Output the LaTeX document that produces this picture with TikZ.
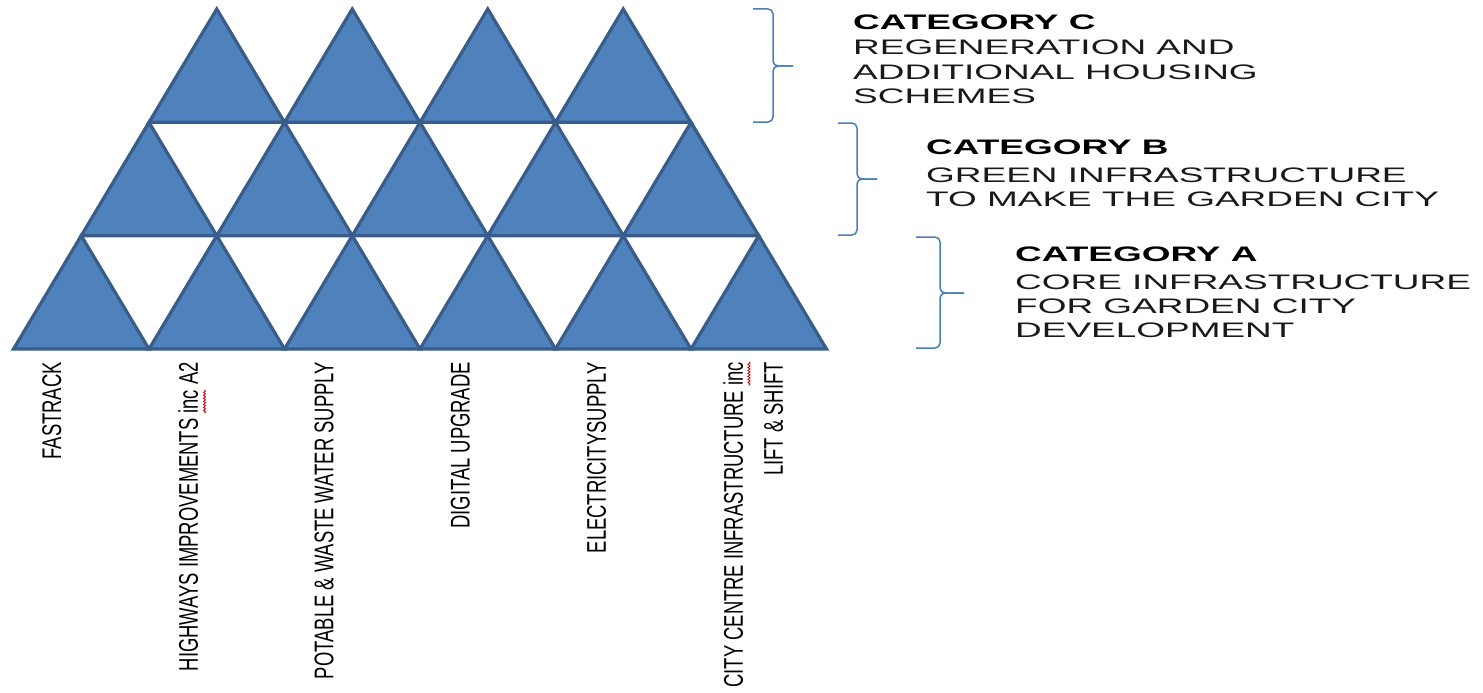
\documentclass[tikz,border=0pt]{standalone}
\usepackage{fontspec}
\setmainfont{Liberation Sans}
\newfontfamily\catfont[FakeStretch=1.76]{Liberation Sans}
\newfontfamily\lblfont[FakeStretch=0.682]{Liberation Sans}
\usetikzlibrary{decorations.pathmorphing}
\definecolor{trifill}{HTML}{4F81BD}
\definecolor{triline}{HTML}{385D8A}
\definecolor{brk}{HTML}{4A7EBB}
\begin{document}
\begin{tikzpicture}[x=1pt,y=-1pt,
  tri/.style={fill=trifill,draw=triline,line width=3.2pt,line join=miter},
  bracket/.style={draw=brk,line width=1.5pt,rounded corners=5pt},
  cathead/.style={anchor=base west,inner sep=0pt,font=\catfont\bfseries\fontsize{21}{24}\selectfont,text=black},
  catline/.style={anchor=base west,inner sep=0pt,font=\catfont\fontsize{21}{24}\selectfont,text=black!90},
  collabel/.style={rotate=90,anchor=north east,inner sep=0pt,align=right,font=\lblfont\fontsize{27}{40}\selectfont,text=black},
  squig/.style={draw=red!80!black,line width=0.8pt,decorate,decoration={snake,amplitude=1.1pt,segment length=3pt}}]
\useasboundingbox (0,0) rectangle (1483,693);
% triangles: rows from bottom
\foreach \r/\n in {0/6,1/5,2/4}{
  \foreach \i in {1,...,\n}{
    \pgfmathsetmacro\xl{13.5+(\i-1)*135.5+\r*67.75}
    \pgfmathsetmacro\yb{349-\r*113.33}
    \filldraw[tri] (\xl,\yb) -- (\xl+135.5,\yb) -- (\xl+67.75,\yb-113.33) -- cycle;
  }
}
% brackets
\coordinate (cTop) at (753,9);   \coordinate (cV1) at (773,9);   \coordinate (cM) at (773,66);  \coordinate (cTip) at (793,66);
\coordinate (cV2) at (773,122);  \coordinate (cBot) at (753,122);
\draw[bracket] (cTop) -- (cV1) -- (cM) -- (cTip);
\draw[bracket] (cTip) -- (cM) -- (cV2) -- (cBot);
\coordinate (bTop) at (838,123); \coordinate (bV1) at (857,123); \coordinate (bM) at (857,179); \coordinate (bTip) at (877,179);
\coordinate (bV2) at (857,235);  \coordinate (bBot) at (838,235);
\draw[bracket] (bTop) -- (bV1) -- (bM) -- (bTip);
\draw[bracket] (bTip) -- (bM) -- (bV2) -- (bBot);
\coordinate (aTop) at (916,237); \coordinate (aV1) at (940,237); \coordinate (aM) at (940,293); \coordinate (aTip) at (964,293);
\coordinate (aV2) at (940,348);  \coordinate (aBot) at (916,348);
\draw[bracket] (aTop) -- (aV1) -- (aM) -- (aTip);
\draw[bracket] (aTip) -- (aM) -- (aV2) -- (aBot);
% category texts
\node[cathead] (catC) at (853,30) {CATEGORY C};
\node[catline] (catC1) at (853,55) {REGENERATION AND};
\node[catline] (catC2) at (853,79) {ADDITIONAL HOUSING};
\node[catline] (catC3) at (853,103) {SCHEMES};
\node[cathead] (catB) at (926,154) {CATEGORY B};
\node[catline] (catB1) at (926,182) {GREEN INFRASTRUCTURE};
\node[catline] (catB2) at (926,206) {TO MAKE THE GARDEN CITY};
\node[cathead] (catA) at (1015,261) {CATEGORY A};
\node[catline] (catA1) at (1015,289) {CORE INFRASTRUCTURE};
\node[catline] (catA2) at (1015,313) {FOR GARDEN CITY};
\node[catline] (catA3) at (1015,337) {DEVELOPMENT};
% column labels
\node[collabel] (l1) at (42,362) {FASTRACK};
\node[collabel] (l2) at (178.2,362) {HIGHWAYS IMPROVEMENTS inc A2};
\node[collabel] (l3) at (314.4,362) {POTABLE \& WASTE WATER SUPPLY};
\node[collabel] (l4) at (450.6,362) {DIGITAL UPGRADE};
\node[collabel] (l5) at (586.8,362) {ELECTRICITYSUPPLY};
\node[collabel] (l6) at (723,362) {CITY CENTRE INFRASTRUCTURE inc\\LIFT \& SHIFT};
% spelling marks
\coordinate (s1a) at (204.5,390); \coordinate (s1b) at (204.5,413);
\coordinate (s2a) at (749,362);   \coordinate (s2b) at (749,386);
\draw[squig] (s1a) -- (s1b);
\draw[squig] (s2a) -- (s2b);
\end{tikzpicture}
\end{document}
